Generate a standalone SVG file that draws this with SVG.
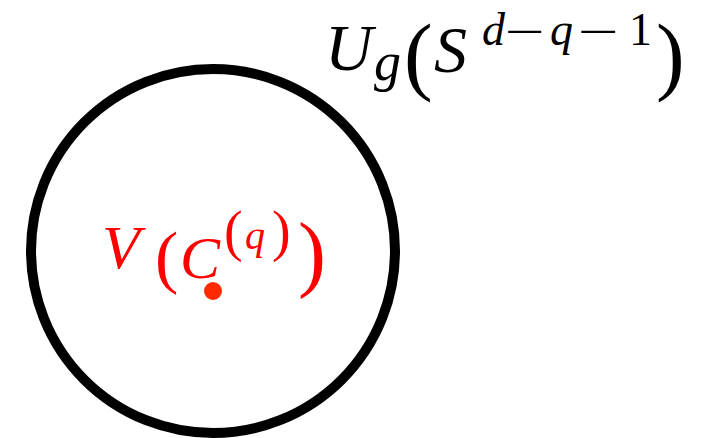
<svg xmlns="http://www.w3.org/2000/svg" width="706" height="438" viewBox="0 0 706 438">
<rect width="706" height="438" fill="#fff"/>
<g id="sphere">
<circle cx="213" cy="251" r="182" fill="none" stroke="#000" stroke-width="10"/>
</g>
<g id="point">
<circle cx="213" cy="291" r="9" fill="#ff2a00"/>
</g>
<g id="label-top" font-family="'Liberation Serif', 'Times New Roman', 'DejaVu Serif', serif" fill="#000">
<text x="325" y="70" font-style="italic" font-size="66">U</text>
<text x="374" y="80" font-style="italic" font-size="54">g</text>
<text x="404" y="84" font-size="86">(</text>
<text x="434" y="72" font-style="italic" font-size="66">S</text>
<text x="482" y="45" font-style="italic" font-size="46">d</text>
<text x="505" y="47" font-size="46" textLength="40" lengthAdjust="spacingAndGlyphs">−</text>
<text x="550" y="45" font-style="italic" font-size="46">q</text>
<text x="578" y="47" font-size="46" textLength="41" lengthAdjust="spacingAndGlyphs">−</text>
<text x="629" y="45" font-size="46">1</text>
<text x="656" y="84" font-size="86">)</text>
</g>
<g id="label-center" font-family="'Liberation Serif', 'Times New Roman', 'DejaVu Serif', serif" fill="#ff0000">
<text x="102" y="268" font-style="italic" font-size="62">V</text>
<text x="155" y="280" font-size="70">(</text>
<text x="180" y="278" font-style="italic" font-size="60">C</text>
<text x="224" y="250" font-size="56">(</text>
<text x="245" y="249" font-style="italic" font-size="40">q</text>
<text x="272" y="250" font-size="56">)</text>
<text x="298" y="281" font-size="84">)</text>
</g>
</svg>
